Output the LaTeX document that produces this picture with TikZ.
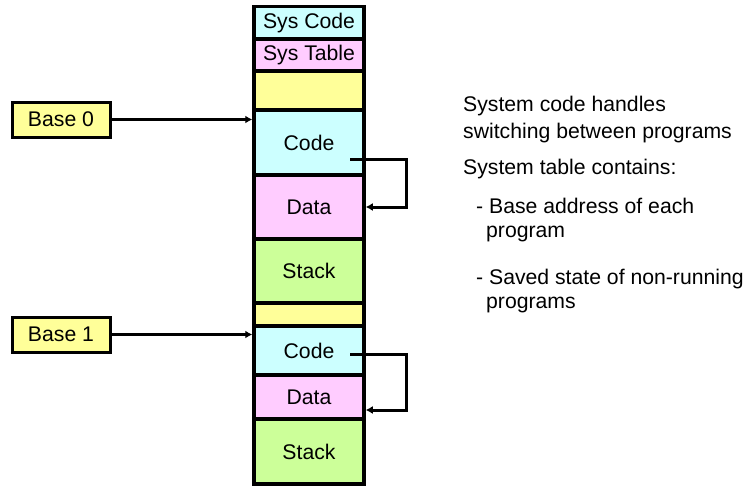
\documentclass[tikz,border=0pt]{standalone}
\usepackage{fontspec}
\setmainfont{Liberation Sans}
\usetikzlibrary{arrows.meta,calc}
\definecolor{cellcyan}{HTML}{CCFFFF}
\definecolor{cellpink}{HTML}{FFCCFF}
\definecolor{cellyellow}{HTML}{FFFF99}
\definecolor{cellgreen}{HTML}{CCFF99}
\begin{document}
\begin{tikzpicture}[x=1pt,y=-1pt,
  txt/.style={font=\fontsize{21.2}{25}\selectfont},
  cell/.style={txt,draw=black,line width=3.5pt,rectangle,minimum width=110pt,inner sep=0pt},
  basebox/.style={txt,draw=black,line width=3pt,rectangle,fill=cellyellow,minimum width=98pt,minimum height=35pt,inner sep=0pt},
  note/.style={txt,anchor=base west,inner sep=0pt},
  link/.style={line width=3pt,-{Latex[length=7pt,width=8pt]}}]
\useasboundingbox (0,0) rectangle (744,487);

% memory column: system area
\node[cell,fill=cellcyan,minimum height=32.5pt]   (syscode)  at (309,22.75) {Sys Code};
\node[cell,fill=cellpink,minimum height=32pt]     (systable) at (309,55)    {Sys Table};
\node[cell,fill=cellyellow,minimum height=39pt]   (free0)    at (309,90.5)  {};
% program 0
\node[cell,fill=cellcyan,minimum height=65pt]     (code0)    at (309,142.5) {Code};
\node[cell,fill=cellpink,minimum height=64pt]     (data0)    at (309,207)   {Data};
\node[cell,fill=cellgreen,minimum height=64pt]    (stack0)   at (309,271)   {Stack};
\node[cell,fill=cellyellow,minimum height=23pt]   (free1)    at (309,314.5) {};
% program 1
\node[cell,fill=cellcyan,minimum height=49pt]     (code1)    at (309,350.5) {Code};
\node[cell,fill=cellpink,minimum height=44pt]     (data1)    at (309,397)   {Data};
\node[cell,fill=cellgreen,minimum height=65pt]    (stack1)   at (309,451.5) {Stack};

% base registers
\node[basebox] (base0) at (61,119.5) {Base 0};
\node[basebox] (base1) at (61,334.5) {Base 1};
\draw[link] (base0.east) -- (base0.east -| code0.west);
\draw[link] (base1.east) -- (base1.east -| code1.west);

% code referring to data
\coordinate (ref0) at (350,159);
\coordinate (ref1) at (350,354);
\draw[link] (ref0) -- (406,159) |- (data0.east);
\draw[link] (ref1) -- (406,354) |- ($(data1.east)+(0,13)$);

% notes
\node[note] (n1) at (463,111) {System code handles};
\node[note] (n2) at (463,138) {switching between programs};
\node[note] (n3) at (463,174) {System table contains:};
\node[note] (n4) at (476,213) {- Base address of each};
\node[note] (n5) at (486,237) {program};
\node[note] (n6) at (476,284) {- Saved state of non-running};
\node[note] (n7) at (486,308) {programs};
\end{tikzpicture}
\end{document}
